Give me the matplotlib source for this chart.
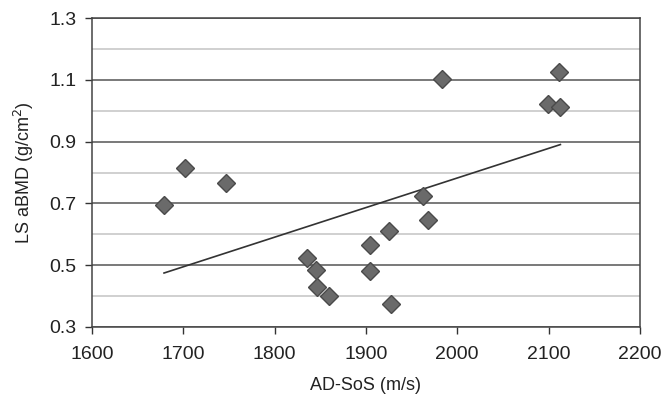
import numpy as np
import matplotlib
matplotlib.use('Agg')
import matplotlib.pyplot as plt

# AD-SoS (m/s) vs LS aBMD (g/cm2)
sos = [1679, 1702, 1747, 1835, 1845, 1847, 1860, 1904, 1904, 1925, 1928,
       1963, 1968, 1983, 2099, 2113, 2111]
bmd = [0.695, 0.815, 0.766, 0.523, 0.484, 0.43, 0.40, 0.566, 0.481, 0.611, 0.374,
       0.724, 0.646, 1.103, 1.022, 1.012, 1.125]
xticks = [1600, 1700, 1800, 1900, 2000, 2100, 2200]
yticks = [0.3, 0.5, 0.7, 0.9, 1.1, 1.3]
yminor = [0.4, 0.6, 0.8, 1.0, 1.2]

plt.rcParams['font.family'] = ['Liberation Sans Narrow', 'Liberation Sans', 'DejaVu Sans']

fig = plt.figure(figsize=(6.61, 4.04), dpi=100)
ax = fig.add_axes([0.139, 0.1906, 0.829, 0.7648])

ax.set_xlim(1600, 2200)
ax.set_ylim(0.3, 1.3)
ax.set_xticks(xticks)
ax.set_yticks(yticks)
ax.set_yticklabels([f'{v:.1f}' for v in yticks])
ax.set_yticks(yminor, minor=True)

ax.grid(axis='y', which='major', color='#555555', lw=1.1)
ax.grid(axis='y', which='minor', color='#c4c4c4', lw=1.1)
ax.set_axisbelow(True)
ax.tick_params(axis='y', which='minor', length=0)
ax.tick_params(which='major', length=5, width=1, color='#333333', labelsize=14, labelcolor='#222222')
ax.tick_params(axis='x', pad=9)
ax.tick_params(axis='y', pad=6)
for s in ax.spines.values():
    s.set_color('#444444')
    s.set_linewidth(1.1)

# linear trend line
x = np.array(sos)
k, b = np.polyfit(x, bmd, 1)
xl = np.array([x.min(), x.max()])
ax.plot(xl, k * xl + b, color='#333333', lw=1.2, zorder=3)

ax.plot(sos, bmd, 'D', ms=9, mfc='#6a6a6a', mec='#4a4a4a', mew=1, zorder=4)

ax.set_xlabel('AD-SoS (m/s)', fontsize=13, color='#222222', labelpad=10)
ax.set_ylabel('LS aBMD (g/cm$^2$)', fontsize=13, color='#222222', labelpad=10)

fig.savefig('out.png', dpi=100)
